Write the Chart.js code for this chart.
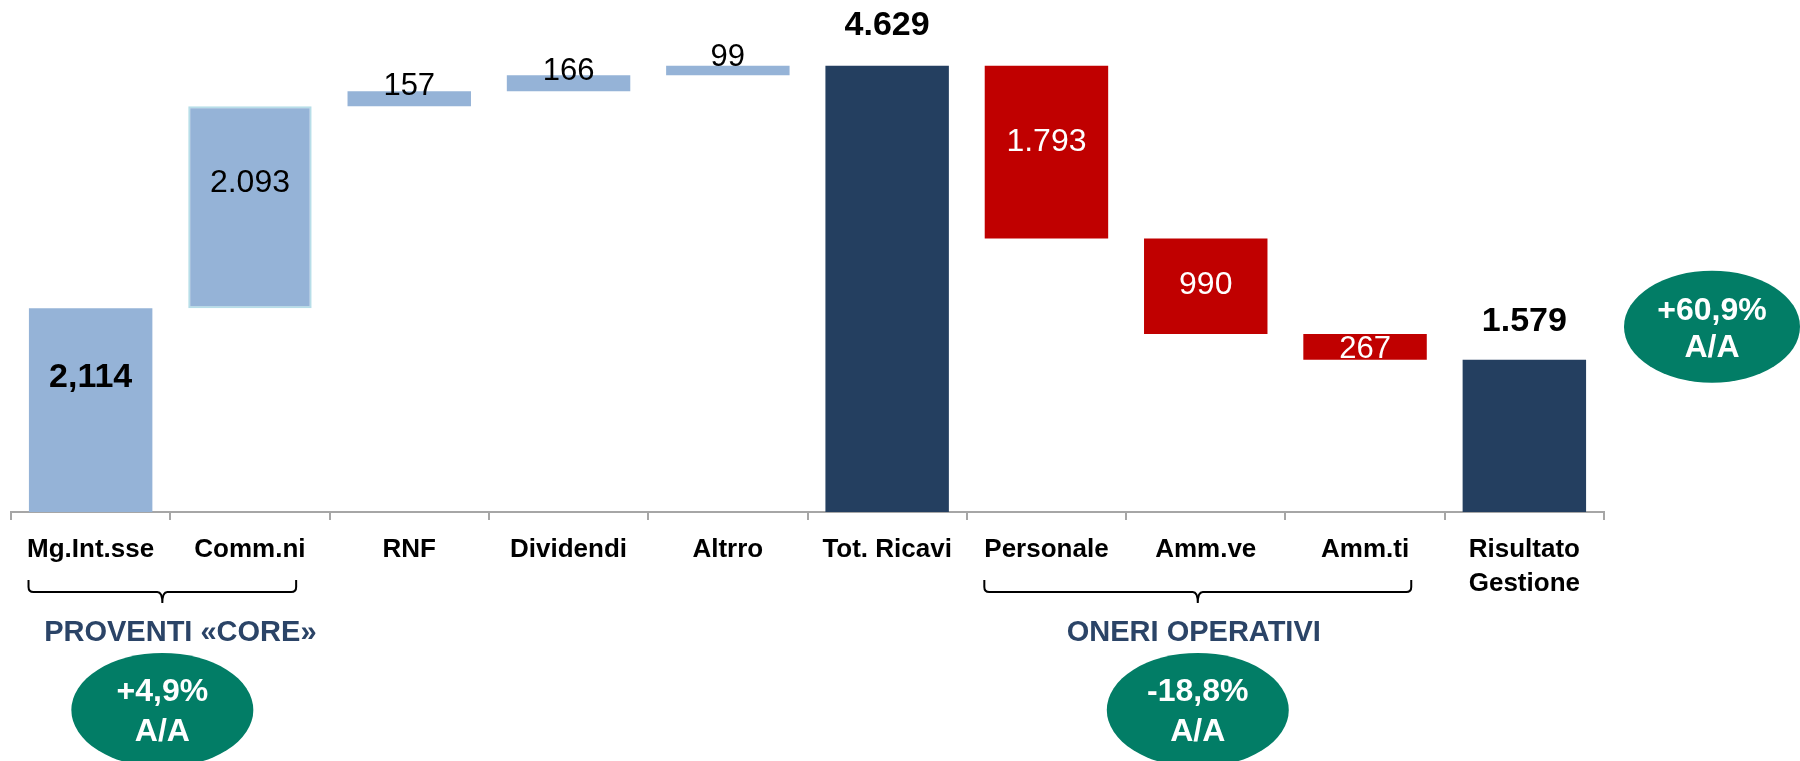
<!DOCTYPE html>
<html lang="it">
<head>
  <meta charset="UTF-8" />
  <title>Ricavi e Risultato di Gestione</title>
  <script src="https://cdn.jsdelivr.net/npm/chart.js"></script>
  <style>
    html, body { margin: 0; padding: 0; background: #fff; }
    canvas { display: block; }
  </style>
</head>
<body>
  <canvas id="waterfall" width="1800" height="761"></canvas>

  <script>
    // data
    const categories = ['Mg.Int.sse', 'Comm.ni', 'RNF', 'Dividendi', 'Altrro', 'Tot. Ricavi',
      'Personale', 'Amm.ve', 'Amm.ti', ['Risultato', 'Gestione']];
    const values = [2114, 2093, 157, 166, 99, 4629, -1793, -990, -267, 1579];
    const isTotal = [false, false, false, false, false, true, false, false, false, true];
    const valueLabels = ['2,114', '2.093', '157', '166', '99', '4.629', '1.793', '990', '267', '1.579'];
    const groups = [
      { from: 0, to: 1, title: 'PROVENTI «CORE»', change: '+4,9%' },
      { from: 6, to: 8, title: 'ONERI OPERATIVI', change: '-18,8%' }
    ];
    const totalChange = '+60,9%';
    const changeUnit = 'A/A';

    const LIGHT = '#95B3D7', NAVY = '#243F60', RED = '#C00000', GREEN = '#027D66', TITLE = '#2B4467';
    const FONT = "'Liberation Sans', Arial, sans-serif";

    // floating bars: running total
    let run = 0;
    const ranges = values.map((v, i) => {
      if (isTotal[i]) { run = v; return [0, v]; }
      const r = [run, run + v];
      run += v;
      return r;
    });
    const colors = values.map((v, i) => isTotal[i] ? NAVY : (v < 0 ? RED : LIGHT));
    // only the Comm.ni bar has an outline on the slide
    const borderWidths = values.map((v, i) => i === 1 ? 2 : 0);

    // where each value label sits
    const labelPlace = [
      { at: 'mid', dy: -32, bold: true, size: 34, color: '#000' },
      { at: 'mid', dy: -24, size: 32, color: '#000' },
      { at: 'mid', dy: -12, size: 31, color: '#000' },
      { at: 'mid', dy: -12, size: 31, color: '#000' },
      { at: 'mid', dy: -13, size: 31, color: '#000' },
      { at: 'top', dy: -40, bold: true, size: 34, color: '#000' },
      { at: 'mid', dy: -10, size: 32, color: '#fff' },
      { at: 'mid', dy: -1, size: 32, color: '#fff' },
      { at: 'mid', dy: 3, size: 31, color: '#fff' },
      { at: 'top', dy: -38, bold: true, size: 34, color: '#000' }
    ];
    const titleShift = [18, -4]; // the group titles are not quite centred on the braces

    const valueLabelPlugin = {
      id: 'valueLabels',
      afterDatasetsDraw(chart) {
        const ctx = chart.ctx;
        const meta = chart.getDatasetMeta(0);
        ctx.save();
        ctx.textAlign = 'center';
        ctx.textBaseline = 'middle';
        meta.data.forEach((bar, i) => {
          const p = labelPlace[i];
          const top = Math.min(bar.y, bar.base), bottom = Math.max(bar.y, bar.base);
          const y = (p.at === 'top' ? top : (top + bottom) / 2) + p.dy;
          ctx.font = (p.bold ? 'bold ' : '') + p.size + 'px ' + FONT;
          ctx.fillStyle = p.color;
          ctx.fillText(valueLabels[i], bar.x, y);
        });
        ctx.restore();
      }
    };

    function badge(ctx, cx, cy, rx, ry, line1, line2, d1, d2) {
      ctx.beginPath();
      ctx.ellipse(cx, cy, rx, ry, 0, 0, Math.PI * 2);
      ctx.fillStyle = GREEN;
      ctx.fill();
      ctx.fillStyle = '#fff';
      ctx.font = 'bold 32px ' + FONT;
      ctx.textAlign = 'center';
      ctx.textBaseline = 'middle';
      ctx.fillText(line1, cx, cy + d1);
      ctx.fillText(line2, cx, cy + d2);
    }

    const groupPlugin = {
      id: 'groups',
      afterDraw(chart) {
        const ctx = chart.ctx;
        const x = chart.scales.x, y = chart.scales.y;
        const catW = x.width / categories.length;
        const base = chart.chartArea.bottom;
        ctx.save();
        groups.forEach((g, gi) => {
          const x1 = x.getPixelForValue(g.from) - 0.39 * catW;
          const x2 = x.getPixelForValue(g.to) + 0.29 * catW;
          const xm = (x1 + x2) / 2;
          const yTop = base + 68, yLine = base + 80, yTip = base + 91, r = 5;
          // brace
          ctx.beginPath();
          ctx.moveTo(x1, yTop);
          ctx.lineTo(x1, yLine - r);
          ctx.quadraticCurveTo(x1, yLine, x1 + r, yLine);
          ctx.lineTo(xm - r, yLine);
          ctx.quadraticCurveTo(xm, yLine, xm, yTip);
          ctx.quadraticCurveTo(xm, yLine, xm + r, yLine);
          ctx.lineTo(x2 - r, yLine);
          ctx.quadraticCurveTo(x2, yLine, x2, yLine - r);
          ctx.lineTo(x2, yTop);
          ctx.strokeStyle = '#000';
          ctx.lineWidth = 2;
          ctx.stroke();
          // title
          ctx.fillStyle = TITLE;
          ctx.font = 'bold 29px ' + FONT;
          ctx.textAlign = 'center';
          ctx.textBaseline = 'middle';
          ctx.fillText(g.title, xm + titleShift[gi], base + 121);
          badge(ctx, xm, base + 198, 91, 57, g.change, changeUnit, -18, 22);
        });
        // overall change next to the final total
        const last = values.length - 1;
        badge(ctx, x.right + 108, y.getPixelForValue(values[last]) - 33, 88, 56, totalChange, changeUnit, -16, 21);
        ctx.restore();
      }
    };

    new Chart(document.getElementById('waterfall'), {
      type: 'bar',
      data: {
        labels: categories,
        datasets: [{
          data: ranges,
          backgroundColor: colors,
          borderColor: '#B7DEE8',
          borderWidth: borderWidths,
          borderSkipped: false,
          categoryPercentage: 1,
          barPercentage: 0.775
        }]
      },
      options: {
        responsive: false,
        animation: false,
        layout: { padding: { left: 11, right: 196, top: 0, bottom: 0 } },
        plugins: { legend: { display: false }, tooltip: { enabled: false } },
        scales: {
          x: {
            offset: true,
            grid: { drawOnChartArea: false, tickLength: 8, color: '#A6A6A6', lineWidth: 2 },
            border: { color: '#A6A6A6', width: 2 },
            ticks: {
              color: '#000',
              padding: 13,
              font: { family: FONT, weight: 'bold', size: 26, lineHeight: 1.3 }
            },
            afterFit(scale) { scale.height = 249; }
          },
          y: { display: false, min: 0, max: 5310 }
        }
      },
      plugins: [valueLabelPlugin, groupPlugin]
    });
  </script>
</body>
</html>
